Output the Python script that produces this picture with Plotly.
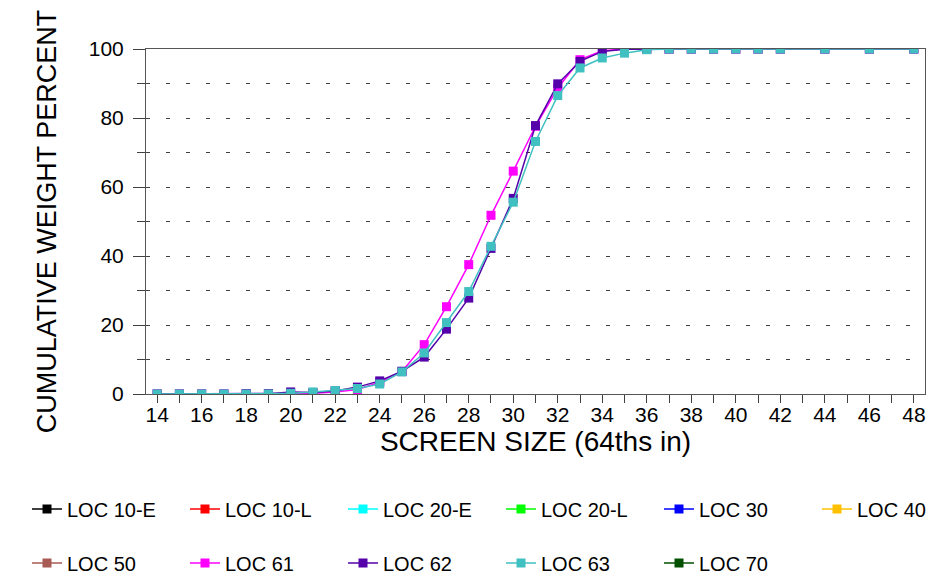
import plotly.graph_objects as go

# ---- data ----
screen_size = list(range(14, 43)) + [44, 46, 48]

loc_10e = []
loc_10l = []
loc_20e = []
loc_20l = []
loc_30 = []
loc_40 = []
loc_50 = []
loc_61 = [0, 0, 0, 0, 0.1, 0.1, 0.2, 0.2, 0.6, 1.3, 3.4, 6.5, 14.3, 25.3, 37.5, 51.8,
          64.6, 77.6, 88.7, 96.9, 99.5, 100, 100, 100, 100, 100, 100, 100, 100, 100, 100, 100]
loc_62 = [0, 0, 0, 0, 0.1, 0.1, 0.6, 0.4, 0.9, 2.0, 3.8, 6.6, 10.7, 18.8, 27.8, 42.2,
          56.7, 77.8, 89.9, 96.4, 99.3, 99.9, 100, 100, 100, 100, 100, 100, 100, 100, 100, 100]
loc_63 = [0, 0, 0, 0, 0, 0, 0.2, 0.6, 1.0, 1.6, 2.9, 6.4, 11.9, 20.7, 29.7, 42.8,
          55.6, 73.2, 86.5, 94.5, 97.4, 98.8, 99.8, 100, 100, 100, 100, 100, 100, 100, 100, 100]
loc_70 = []

series_names = ["LOC 10-E", "LOC 10-L", "LOC 20-E", "LOC 20-L", "LOC 30", "LOC 40",
                "LOC 50", "LOC 61", "LOC 62", "LOC 63", "LOC 70"]
series_values = [loc_10e, loc_10l, loc_20e, loc_20l, loc_30, loc_40,
                 loc_50, loc_61, loc_62, loc_63, loc_70]

y_tick_vals = [0, 20, 40, 60, 80, 100]
x_tick_vals = list(range(14, 49, 2))

# ---- styles / layout ----
colors = ["#000000", "#FF0000", "#00FFFF", "#00FF00", "#0000FF", "#FFC000",
          "#A85A55", "#FF00FF", "#5500AA", "#40C0C0", "#005000"]
FONT = "Liberation Sans, Arial, sans-serif"

W, H = 926, 569            # page body has an 8px margin
ML, MT, MR = 138, 41, 9
PW = W - ML - MR           # plot width
PH = 345                   # plot height
MB = H - MT - PH
PLOT_BOTTOM = MT + PH

# legend groups: (legend id, left px, row centre px) in figure coords
legend_of = ["legend", "legend", "legend", "legend2", "legend2", "legend2",
             "legend3", "legend3", "legend3", "legend4", "legend4"]
COL0 = 19
COL2 = COL0 + 3 * 158
legend_pos = {
    "legend": (COL0, 501), "legend2": (COL2, 501),
    "legend3": (COL0, 555), "legend4": (COL2, 555),
}

fig = go.Figure()
for i, (name, vals) in enumerate(zip(series_names, series_values)):
    if len(vals):
        xs, ys = screen_size, vals
    else:
        xs, ys = [None], [None]
    fig.add_trace(go.Scatter(
        x=xs, y=ys, name=name, mode="lines+markers",
        line=dict(color=colors[i], width=1.5),
        marker=dict(symbol="square", size=9, color=colors[i]),
        legend=legend_of[i],
    ))

legend_common = dict(
    orientation="h", xref="paper", xanchor="left", yanchor="middle",
    yref="paper", font=dict(family=FONT, size=20, color="#000000"),
    entrywidth=113, entrywidthmode="pixels", bgcolor="rgba(0,0,0,0)",
    borderwidth=0, itemclick=False, itemdoubleclick=False,
)
legends = {}
for lid, (lx, ly) in legend_pos.items():
    legends[lid] = dict(x=(lx - ML) / PW, y=(PLOT_BOTTOM - ly) / PH, **legend_common)

fig.update_layout(
    template="none",
    width=W, height=H,
    margin=dict(l=ML, r=MR, t=MT, b=MB, autoexpand=False),
    paper_bgcolor="white", plot_bgcolor="white",
    font=dict(family=FONT, color="#000000"),
    showlegend=True,
    **legends,
    xaxis=dict(
        range=[13.5, 48.5], tickvals=x_tick_vals, ticks="outside", ticklen=8,
        tickcolor="#404040", tickwidth=1, ticklabelstandoff=-6,
        minor=dict(dtick=1, tick0=14, ticks="outside", ticklen=8, tickcolor="#404040", showgrid=False),
        showgrid=False, zeroline=False, showline=True, linecolor="#555555", linewidth=1,
        mirror=True, tickfont=dict(family=FONT, size=21, color="#000000"),
        title=dict(text="SCREEN SIZE (64ths in)", font=dict(family=FONT, size=28, color="#000000"), standoff=2),
        automargin=False,
    ),
    yaxis=dict(
        range=[0, 100], tickvals=y_tick_vals, ticks="outside", ticklen=12,
        tickcolor="#404040", tickwidth=1, ticklabelstandoff=5,
        minor=dict(dtick=10, tick0=0, ticks="outside", ticklen=8, tickcolor="#404040",
                   showgrid=True, gridcolor="#404040", griddash="4px,16px", gridwidth=1),
        showgrid=True, gridcolor="#404040", griddash="4px,16px", gridwidth=1,
        zeroline=False, showline=True, linecolor="#555555", linewidth=1,
        mirror=True, tickfont=dict(family=FONT, size=21, color="#000000"),
        title=dict(text="CUMULATIVE WEIGHT PERCENT", font=dict(family=FONT, size=27, color="#000000"), standoff=24),
        automargin=False,
    ),
)

fig.write_html("out.html")
